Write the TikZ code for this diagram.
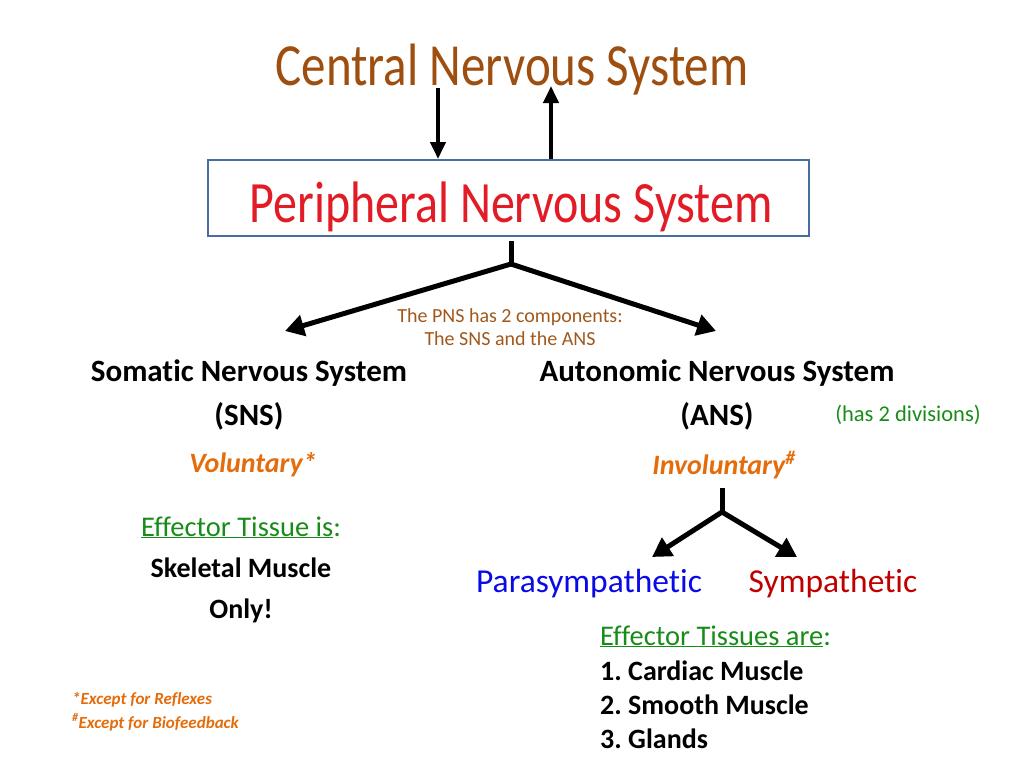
\documentclass[tikz,border=0pt]{standalone}
\usepackage{fontspec}
\setmainfont{Carlito}[Ligatures=NoCommon]
\usepackage{xcolor}
\usetikzlibrary{arrows.meta,calc,positioning}

\definecolor{cnsbrown}{RGB}{158,78,14}
\definecolor{pnsred}{RGB}{226,28,38}
\definecolor{boxblue}{RGB}{72,110,160}
\definecolor{noteorange}{RGB}{228,108,10}
\definecolor{notebrown}{RGB}{160,88,28}
\definecolor{tissuegreen}{RGB}{24,140,24}
\definecolor{parablue}{RGB}{10,10,230}
\definecolor{symred}{RGB}{192,0,0}

\newcommand{\fsz}[1]{\fontsize{#1}{#1}\selectfont}
\newcommand{\alto}[1]{\scalebox{1}[1.22]{#1}}

\tikzset{
  titolo/.style={anchor=base,font=\fsz{49}},
  sistema/.style={anchor=base,font=\fsz{31}\bfseries},
  nota/.style={anchor=base,font=\fsz{28}\bfseries\itshape,text=noteorange},
  tessuto/.style={anchor=base,font=\fsz{28}\bfseries},
  ramo/.style={line width=5pt,line cap=round,-{Triangle[length=19pt,width=21pt]}},
  freccia/.style={line width=4pt,-{Triangle[length=17pt,width=15pt]}},
}

\begin{document}
\frenchspacing
\begin{tikzpicture}[x=1pt,y=-1pt]
\useasboundingbox (0,0) rectangle (1024,768);
% Sistema nervoso centrale e periferico
\node[titolo,text=cnsbrown] (cns) at (512,85) {\alto{Central Nervous System}};
\node[draw=boxblue,line width=2pt,minimum width=601pt,minimum height=76pt,inner sep=0pt] (pns) at (508.5,198) {};
\node[titolo,text=pnsred,font=\fsz{48}] (pnstesto) at (511,222) {\alto{Peripheral Nervous System}};
\coordinate (giu) at (438,88);
\coordinate (su) at (551,86);
\draw[freccia] (giu) -- (giu |- pns.north);
\draw[freccia] (su |- pns.north) -- (su);
% Due componenti
\coordinate (snodo) at (511,264);
\coordinate (versoSNS) at (285,331);
\coordinate (versoANS) at (716,331);
\draw[line width=5pt] ($(pns.south -| snodo)+(0,4)$) -- (snodo);
\draw[ramo] (snodo) -- (versoSNS);
\draw[ramo] (snodo) -- (versoANS);
\node[anchor=base,font=\fsz{20},text=notebrown] (comp1) at (510,322) {The PNS has 2 components:};
\node[anchor=base,font=\fsz{20},text=notebrown] (comp2) at (510,345) {The SNS and the ANS};
% Somatico
\node[sistema] (sns) at (249,381) {Somatic Nervous System};
\node[sistema] (snsab) at (249,425) {(SNS)};
\node[nota] (vol) at (253,472) {Voluntary*};
\node[anchor=base,font=\fsz{28.5},text=tissuegreen] (eff1) at (241,536) {\underline{Effector Tissue is}:};
\node[tessuto] (skel) at (241,577) {Skeletal Muscle};
\node[tessuto] (only) at (241,618) {Only!};
% Autonomo
\node[sistema] (ans) at (717,381) {Autonomic Nervous System};
\node[sistema] (ansab) at (717,425) {(ANS)};
\node[anchor=base,font=\fsz{22.5},text=tissuegreen] (div) at (908,421) {(has 2 divisions)};
\node[nota] (invol) at (724,474) {Involuntary\textsuperscript{\#}};
% Divisioni
\coordinate (snodob) at (722,512);
\coordinate (versoPara) at (652,557);
\coordinate (versoSym) at (797,557);
\draw[line width=5pt] (722,488) -- (snodob);
\draw[ramo] (snodob) -- (versoPara);
\draw[ramo] (snodob) -- (versoSym);
\node[anchor=base,font=\fsz{33.5},text=parablue] (para) at (589,592) {Parasympathetic};
\node[anchor=base,font=\fsz{33.5},text=symred] (sym) at (833,592) {Sympathetic};
\node[anchor=base west,inner sep=0pt,font=\fsz{28.5},text=tissuegreen] (eff2) at (600,645) {\underline{Effector Tissues are}:};
\foreach \y/\lab/\nome in {680/1. Cardiac Muscle/card, 714/2. Smooth Muscle/smooth, 748/3. Glands/glands}{
  \node[tessuto,anchor=base west,inner sep=0pt] (\nome) at (600,\y) {\lab};
}
% Note
\node[anchor=base west,inner sep=0pt,font=\fsz{17}\bfseries\itshape,text=noteorange] (rifl) at (72,704) {*Except for Reflexes};
\node[anchor=base west,inner sep=0pt,font=\fsz{17}\bfseries\itshape,text=noteorange] (biof) at (72,728) {\textsuperscript{\#}Except for Biofeedback};
\end{tikzpicture}
\end{document}
